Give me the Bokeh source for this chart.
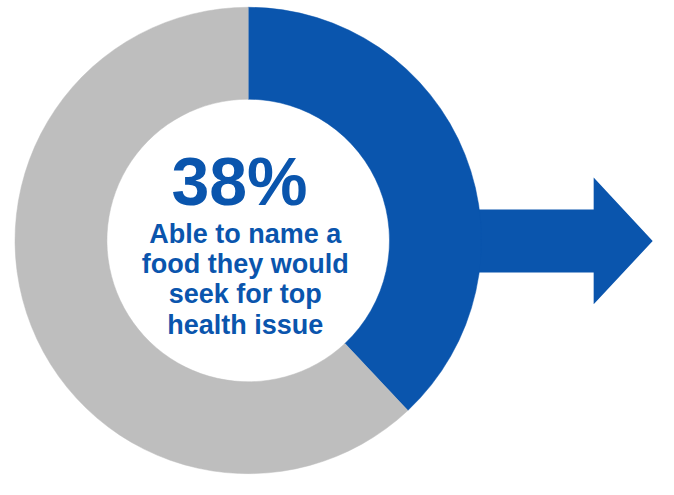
import math
from bokeh.plotting import figure
from bokeh.models import Range1d, ColumnDataSource
from bokeh.embed import file_html
from bokeh.resources import INLINE
from bokeh.core.properties import value

# ---- data ----
categories = ["Able to name a food", "Not able"]
shares = [0.38, 0.62]
colors = ["#0A55AD", "#BEBEBE"]
headline = "38%"
label_lines = ["Able to name a", "food they would", "seek for top", "health issue"]

# ---- layout (reference pixel coordinates, y measured downward) ----
H = 495
def Y(y):
    return H - y

CX, CY = 256, 248
R_OUT, R_IN = 241, 146

p = figure(width=658, height=479, x_range=Range1d(0, 680), y_range=Range1d(0, H),
           output_backend="svg", toolbar_location=None, min_border=0)
p.axis.visible = False
p.grid.visible = False
p.outline_line_color = None
p.background_fill_color = "white"
p.border_fill_color = "white"

# arrow (drawn beneath the ring)
ax = [440, 613, 613, 674, 613, 613, 440]
ay = [Y(216), Y(216), Y(183), Y(248.5), Y(314), Y(281), Y(281)]
p.patch(ax, ay, fill_color=colors[0], line_color=None)

# donut, clockwise from 12 o'clock
starts, ends = [], []
cum = 0.0
for s in shares:
    a_before = math.pi / 2 - 2 * math.pi * cum
    cum += s
    a_after = math.pi / 2 - 2 * math.pi * cum
    starts.append(a_after)
    ends.append(a_before)
src = ColumnDataSource(dict(cat=categories, share=shares, color=colors,
                            start=starts, end=ends))
p.annular_wedge(x=CX, y=Y(CY), inner_radius=R_IN, outer_radius=R_OUT,
                start_angle="start", end_angle="end", direction="anticlock",
                fill_color="color", line_color="color", line_width=0.5, source=src)

# center text (baselines compensated for renderer offset)
p.text(x=[247], y=[Y(211 - 24)], text=[headline], text_font=value("Liberation Sans"),
       text_font_style="bold", text_font_size="68px", text_align="center",
       text_baseline="alphabetic", text_color=colors[0])
line_base = [250, 281, 312, 344]
p.text(x=[253] * len(label_lines), y=[Y(b - 9) for b in line_base], text=label_lines,
       text_font=value("Liberation Sans"), text_font_style="bold",
       text_font_size="27px", text_align="center", text_baseline="alphabetic",
       text_color=colors[0])

open("out.html", "w").write(file_html(p, INLINE))
